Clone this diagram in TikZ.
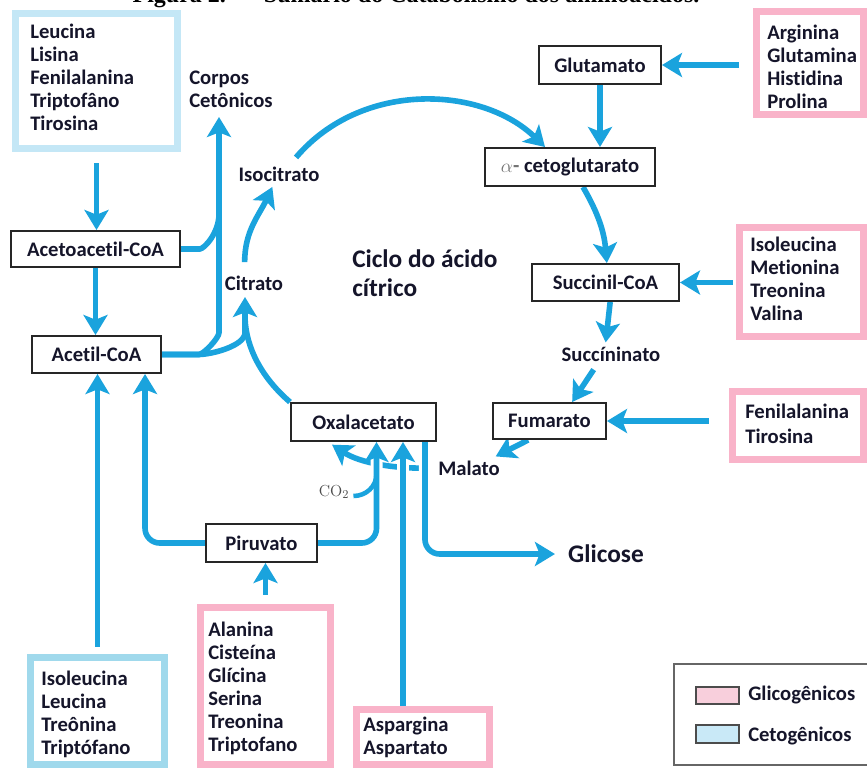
\documentclass[tikz,border=0pt]{standalone}
\usepackage[no-math]{fontspec}
\setmainfont{Carlito}[Ligatures=NoCommon]
\newfontfamily\titlefont{Liberation Serif}
\usetikzlibrary{arrows.meta}
\pgfdeclarelayer{bg}
\pgfsetlayers{bg,main}
\definecolor{flowc}{HTML}{1AA3DD}
\definecolor{pinkb}{HTML}{F9B3C9}
\definecolor{bluea}{HTML}{C4E7F6}
\definecolor{blueb}{HTML}{A0D9EC}
\definecolor{txt}{HTML}{15152A}
\definecolor{legpink}{HTML}{F8CFDC}
\definecolor{legblue}{HTML}{C9E9F7}
\begin{document}
\begin{tikzpicture}[x=0.75pt,y=-0.75pt,
  >={Stealth[length=15pt,width=18pt,inset=3.5pt]},
  lbl/.style={font=\bfseries\fontsize{15.5}{17.25}\selectfont,text=txt,inner sep=0pt},
  big/.style={font=\bfseries\fontsize{19}{21.75}\selectfont,text=txt,inner sep=0pt},
  listtxt/.style={lbl,align=left,anchor=north west},
  stepbox/.style={draw=black!85,line width=1.5pt,fill=white,lbl},
  pinkframe/.style={draw=pinkb,line width=5.25pt,fill=white,inner sep=0pt},
  blueframeA/.style={draw=bluea,line width=5.25pt,fill=white,inner sep=0pt},
  blueframeB/.style={draw=blueb,line width=5.25pt,fill=white,inner sep=0pt},
  flow/.style={draw=flowc,line width=4.2pt,rounded corners=11pt},
  halo/.style={preaction={draw=white,line width=9pt,-}},
]
\useasboundingbox (0,0) rectangle (867,769);
\clip (0,0) rectangle (867,769);

% title (cut off at the top)
\node[anchor=base,font=\titlefont\bfseries\fontsize{18}{20}\selectfont,inner sep=0pt,text=black] (title) at (416,2) {Figura 2. — Sumário do Catabolismo dos aminoácidos.};

% amino acid frames
\node[blueframeA,minimum width=121.5pt,minimum height=101.25pt] (ketoA) at (96.5,81) {};
\node[listtxt] (ketoAtxt) at (30,24) {Leucina\\Lisina\\Fenilalanina\\Triptofâno\\Tirosina};

\node[pinkframe,minimum width=80.25pt,minimum height=77.25pt] (argin) at (810,63) {};
\node[listtxt] (argintxt) at (767,25) {Arginina\\Glutamina\\Histidina\\Prolina};

\node[pinkframe,minimum width=93pt,minimum height=81.75pt] (isoleu) at (801.5,282) {};
\node[listtxt] (isoleutxt) at (750,237) {Isoleucina\\Metionina\\Treonina\\Valina};

\node[pinkframe,minimum width=98.25pt,minimum height=51pt] (fenil) at (798,425.5) {};
\node[listtxt,font=\bfseries\fontsize{15.5}{18.5}\selectfont] (feniltxt) at (745,404) {Fenilalanina\\Tirosina};

\node[pinkframe,minimum width=97.5pt,minimum height=117.75pt] (alan) at (265.5,686) {};
\node[listtxt] (alantxt) at (208,622) {Alanina\\Cisteína\\Glícina\\Serina\\Treonina\\Triptofano};

\node[pinkframe,minimum width=99.75pt,minimum height=41.25pt] (asp) at (423,737) {};
\node[listtxt] (asptxt) at (363,717) {Aspargina\\Aspartato};

\node[blueframeB,minimum width=100.5pt,minimum height=80.25pt] (ketoB) at (97.5,711) {};
\node[listtxt] (ketoBtxt) at (41,671) {Isoleucina\\Leucina\\Treônina\\Triptófano};

% legend
\node[draw=black!60,line width=1.2pt,fill=white,minimum width=146.25pt,minimum height=75.75pt] (legend) at (771.5,714.5) {};
\node[draw=black!70,line width=1pt,fill=legpink,minimum width=32.25pt,minimum height=12.75pt] (swp) at (717.5,695.5) {};
\node[draw=black!70,line width=1pt,fill=legblue,minimum width=32.25pt,minimum height=13.5pt] (swb) at (717.5,734) {};
\node[lbl,anchor=west] (legp) at (748,695) {Glicogênicos};
\node[lbl,anchor=west] (legb) at (748,736) {Cetogênicos};

% metabolite boxes
\node[stepbox,minimum width=126.75pt,minimum height=27pt] (acetoacetil) at (95.5,249) {Acetoacetil-CoA};
\node[stepbox,minimum width=96.75pt,minimum height=27.75pt] (acetil) at (96.5,354.5) {Acetil-CoA};
\node[stepbox,minimum width=83.25pt,minimum height=28.5pt] (piruvato) at (261.5,543) {Piruvato};
\node[stepbox,minimum width=108.75pt,minimum height=28.5pt] (oxa) at (363.5,422) {Oxalacetato};
\node[stepbox,minimum width=84.75pt,minimum height=27pt] (fumarato) at (549.5,421) {Fumarato};
\node[stepbox,minimum width=91.5pt,minimum height=28.5pt] (glutamato) at (600,65) {Glutamato};
\node[stepbox,minimum width=127.5pt,minimum height=28.5pt] (akg) at (570,167) {{\color{black!55}$\alpha$-}\ cetoglutarato};
\node[stepbox,minimum width=110.25pt,minimum height=27.75pt] (succinil) at (605.5,282.5) {Succinil-CoA};

% free labels
\node[listtxt] (corpos) at (189,71) {Corpos\\Cetônicos};
\node[lbl] (isocitrato) at (279,174) {Isocitrato};
\node[lbl] (citrato) at (254,283) {Citrato};
\node[big,align=left,anchor=north west] (ciclo) at (352,249) {Ciclo do ácido\\cítrico};
\node[lbl] (succlab) at (611,354) {Succíninato};
\node[lbl] (malato) at (469,468) {Malato};
\node[big] (glicose) at (606,554) {Glicose};
\node[font=\fontsize{13}{15}\selectfont,text=black!70,inner sep=0pt] (co2) at (334,492) {$\mathrm{CO}_2$};

% junction coordinates
\coordinate (kt) at (219,117);
\coordinate (ct) at (245,297);
\coordinate (co2j) at (376.5,474);
\coordinate (aspb) at ([xshift=-15pt]asp.north);
\coordinate (oxg) at ([xshift=46.1pt]oxa.south);
\coordinate (alt) at ([yshift=7.1pt]alan.north);
\coordinate (pa) at ([xshift=36.4pt]acetil.south);
\coordinate (kb) at ([yshift=5.6pt]ketoB.north);
\coordinate (ka) at ([yshift=-8.6pt]ketoA.south);

\begin{pgfonlayer}{bg}
\fill[white] (0,0) rectangle (867,769);
% Malato -> Oxalacetato (drawn first, crossed by the verticals)
\draw[flow,->] ([xshift=-7pt]malato.west) .. controls (395,469) and (360,463) .. ([xshift=-23.6pt,yshift=-2pt]oxa.south);
% verticals with white halo
\draw[flow,->,halo] (piruvato.east) -| ([xshift=9.75pt]oxa.south);
\draw[flow,->,halo] (aspb) -- (aspb |- oxa.south);
\draw[flow,->,halo] (oxg) |- ([xshift=-9.75pt]glicose.west);
\draw[flow,line width=3.4pt] ([xshift=3pt,yshift=-3pt]co2.east) to[out=0,in=-90] (co2j);
% left side
\draw[flow,->] (alt) -- (alt |- piruvato.south);
\draw[flow,->] (piruvato.west) -| (pa);
\draw[flow,->] (kb) -- (kb |- acetil.south);
\draw[flow,->] (ka) -- (ka |- acetoacetil.north);
\draw[flow,->] (acetoacetil.south) -- (acetoacetil.south |- acetil.north);
% to corpos cetonicos and citrato
\draw[flow,->] (acetil.east) -- ++(22,0) to[out=0,in=-90] (219,318) -- (kt);
\draw[flow] (acetoacetil.east) -- ++(4,0) to[out=0,in=-90] (219,214);
\draw[flow,->] (acetil.east) -- ++(22,0) to[out=0,in=-90] (245,318) -- (ct);
\draw[flow] (oxa.north west) .. controls (262,378) and (246,348) .. (245,318);
% cycle
\draw[flow,->] ([xshift=-7pt,yshift=10pt]citrato.north) to[out=90,in=-115] ([xshift=-5pt,yshift=-4pt]isocitrato.south);
\draw[flow,->] ([xshift=12.75pt,yshift=6.75pt]isocitrato.north) .. controls (362,80) and (482,86) .. ([xshift=-18.75pt]akg.north);
\draw[flow,->] (glutamato.south) -- (glutamato.south |- akg.north);
\draw[flow,->] (glutamato.east -| argin.west) ++(-14.5,0) -- (glutamato.east);
\draw[flow,->] ([xshift=9.75pt]akg.south) to[out=-60,in=95] ([xshift=1pt]succinil.north);
\draw[flow,->] (succinil.east -| isoleu.west) ++(-3.5,0) -- (succinil.east);
\draw[flow,->] ([xshift=3.5pt]succinil.south) -- ([xshift=-4pt,yshift=3pt]succlab.north);
\draw[flow,->] ([xshift=-13pt,yshift=-6pt]succlab.south) -- ([xshift=17pt]fumarato.north);
\draw[flow,->] (fumarato.east -| fenil.west) ++(-20.5,0) -- (fumarato.east);
\draw[flow,->] ([xshift=-16pt]fumarato.south) -- ([xshift=20pt,yshift=3pt]malato.north);
\end{pgfonlayer}
\end{tikzpicture}
\end{document}
